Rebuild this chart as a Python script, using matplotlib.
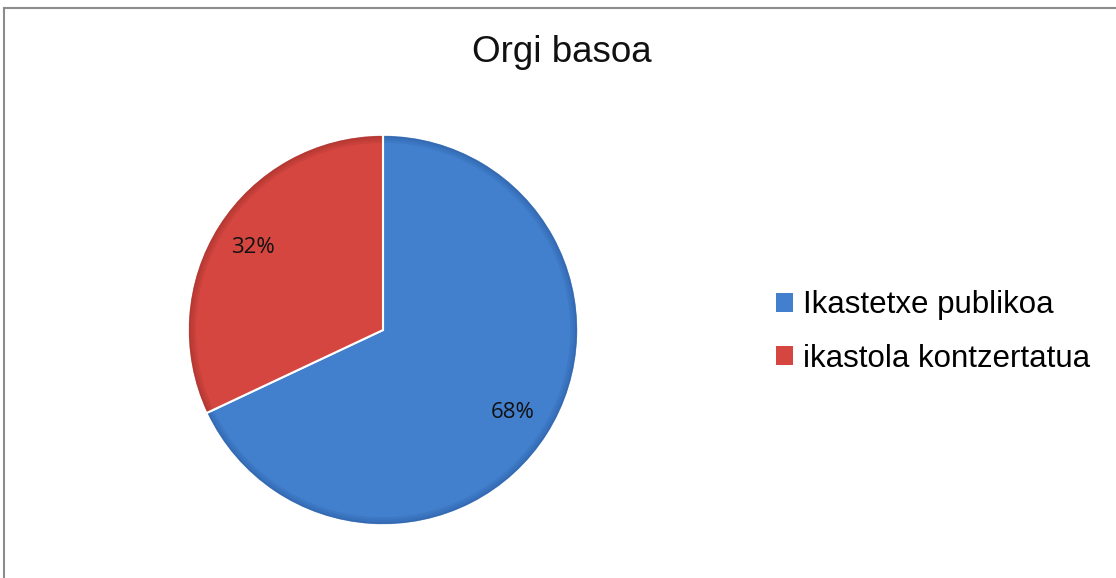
import matplotlib
matplotlib.use("Agg")
import matplotlib.pyplot as plt
from matplotlib.lines import Line2D
from matplotlib.patches import Wedge

title = "Orgi basoa"
categories = ["Ikastetxe publikoa", "ikastola kontzertatua"]
values = [68, 32]
colors = ["#4280CE", "#D4463F"]
rim_colors = ["#2F62A8", "#A8332E"]

W, H = 1116, 578
fig = plt.figure(figsize=(W / 100, H / 100), dpi=100)
fig.patch.set_facecolor("white")

# outer chart border (top and left visible)
fig.add_artist(Line2D([4 / W, 4 / W], [0, 1 - 8 / H], color="#8C8C8C", lw=1.5, transform=fig.transFigure))
fig.add_artist(Line2D([4 / W, 1], [1 - 8 / H, 1 - 8 / H], color="#8C8C8C", lw=1.5, transform=fig.transFigure))

cx, cy, r = 383, 330, 195
ax = fig.add_axes([(cx - r) / W, (H - cy - r) / H, 2 * r / W, 2 * r / H])
wedges, texts = ax.pie(
    values,
    colors=colors,
    startangle=90,
    counterclock=False,
    labels=[f"{v}%" for v in values],
    labeldistance=0.79,
    wedgeprops=dict(edgecolor="white", linewidth=1.5),
    textprops=dict(fontsize=16, family=["Open Sans", "DejaVu Sans"], color="#111111"),
)
for t in texts:
    t.set_ha("center")
    t.set_va("center")
    t.set_zorder(5)
# subtle darker rim for the bevelled look
for w, rc in zip(wedges, rim_colors):
    for k, a in enumerate([0.25, 0.45, 0.7]):
        ax.add_patch(Wedge((0, 0), 1.0 - 0.012 * (2 - k) - 0.004, w.theta1 + 0.4, w.theta2 - 0.4,
                           width=0.012, facecolor=rc, alpha=a, edgecolor="none", zorder=3))
ax.set_xlim(-1, 1)
ax.set_ylim(-1, 1)
ax.set_aspect("equal")
ax.axis("off")

fig.text(562 / W, 1 - 52 / H, title, ha="center", va="center", fontsize=26.5,
         family=["Liberation Sans", "DejaVu Sans"], color="#111111")

leg = fig.legend(wedges, categories, loc="center left",
                 bbox_to_anchor=(776 / W, 1 - 332 / H),
                 frameon=False,
                 prop=dict(family=["Liberation Sans", "DejaVu Sans"], size=22.5),
                 handlelength=0.55, handleheight=0.55, handletextpad=0.3,
                 labelspacing=0.74, borderpad=0, borderaxespad=0)
for h in leg.legend_handles:
    h.set_edgecolor("none")

fig.savefig("out.png", dpi=100, facecolor="white")
